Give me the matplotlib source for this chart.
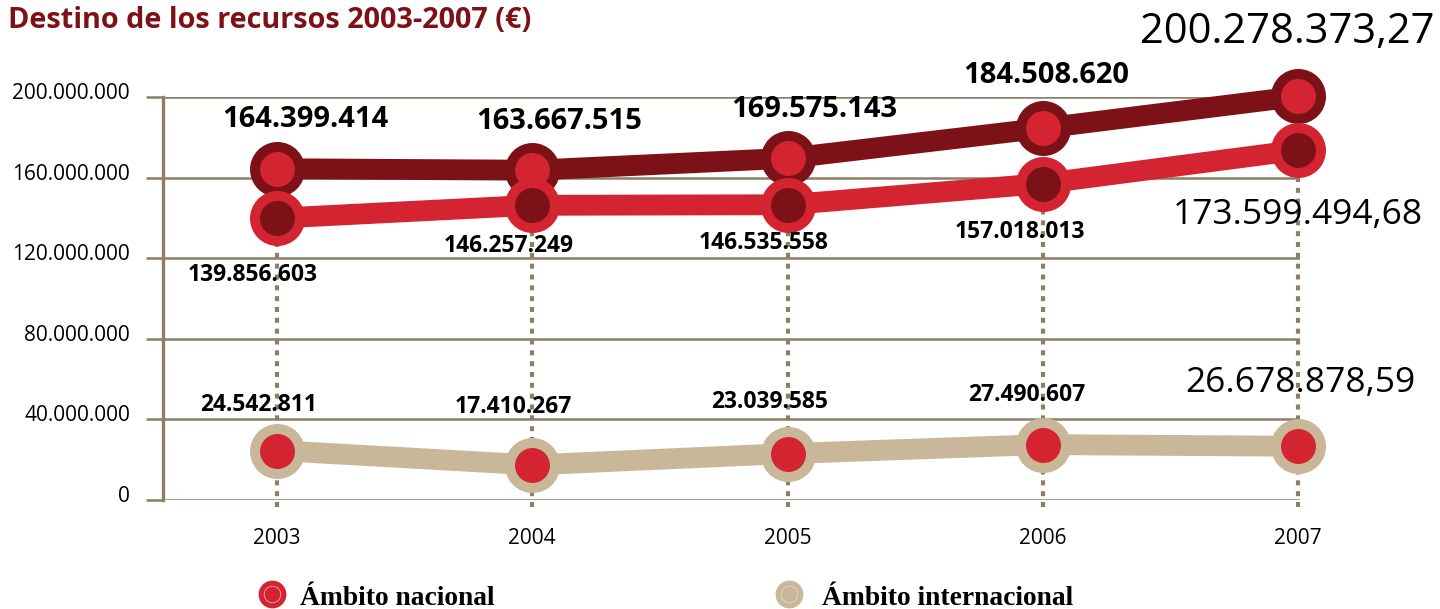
import matplotlib
matplotlib.use('Agg')
from matplotlib import pyplot as plt
from matplotlib.lines import Line2D
from matplotlib.transforms import ScaledTranslation

years = [2003, 2004, 2005, 2006, 2007]
total = [164399414, 163667515, 169575143, 184508620, 200278373.27]
nacional = [139856603, 146257249, 146535558, 157018013, 173599494.68]
internacional = [24542811, 17410267, 23039585, 27490607, 26678878.59]
y_ticks = [0, 40000000, 80000000, 120000000, 160000000, 200000000]
legend_labels = ['Ámbito nacional', 'Ámbito internacional']
title = 'Destino de los recursos 2003-2007 (€)'

DARK = '#7d1118'
RED = '#d42431'
TAN = '#c8b899'
GRID = '#8c7f66'
FONT = 'Open Sans'


def fmt(v):
  if v != int(v):
    s = f'{v:,.2f}'
  else:
    s = f'{int(v):,}'
  return s.replace(',', '#').replace('.', ',').replace('#', '.')


def px(v):
  # pixels -> points at 100 dpi
  return v * 0.72


def label_series(ax, values, offsets, small_size):
  for i, (x, v) in enumerate(zip(years, values)):
    dx, dy = offsets[i]
    last = i == len(values) - 1
    ax.annotate(fmt(v), (x, v), xytext=(px(dx), px(dy)),
                textcoords='offset points', ha='center', va='center',
                fontsize=small_size[1] if last else small_size[0],
                fontweight='normal' if last else 'bold',
                family=FONT, color='black', zorder=10,
                annotation_clip=False)


def main():
  fig = plt.figure(figsize=(14.4, 6.09), dpi=100)
  ax = fig.add_axes([163 / 1440, 1 - 500 / 609, (1300 - 163) / 1440, 403 / 609])
  ax.set_xlim(2003 - 114 / 255.25, 2007 + 2 / 255.25)
  ax.set_ylim(0, 200000000)

  for s in ['top', 'right', 'bottom']:
    ax.spines[s].set_visible(False)
  ax.spines['left'].set_color(GRID)
  ax.spines['left'].set_linewidth(2.4)

  ax.set_yticks(y_ticks)
  ax.set_yticklabels([fmt(v) for v in y_ticks], family=FONT, fontsize=15)
  ax.tick_params(axis='y', length=12.2, width=1.8, color=GRID, pad=11.5)
  for lab in ax.get_yticklabels():
    lab.set_transform(lab.get_transform()
                      + ScaledTranslation(0, 0.06, fig.dpi_scale_trans))
  ax.set_xticks(years)
  ax.set_xticklabels([str(y) for y in years], family=FONT, fontsize=15)
  ax.tick_params(axis='x', length=0, pad=20)
  ax.yaxis.grid(True, color=GRID, linewidth=1.8)
  ax.set_axisbelow(True)

  # dotted guides
  ax.vlines(years, -3500000, nacional, colors=GRID, linewidth=3.0,
            linestyles=(0, (1.2, 1.4)), zorder=1.5, clip_on=False)

  mk = dict(marker='o', markersize=32.4, markeredgewidth=7.2, linestyle='none',
            clip_on=False)
  ax.plot(years, internacional, color=TAN, linewidth=15,
          solid_capstyle='round', zorder=3, clip_on=False)
  ax.plot(years, internacional, markerfacecolor=RED, markeredgecolor=TAN,
          zorder=4, **mk)
  ax.plot(years, total, color=DARK, linewidth=15,
          solid_capstyle='round', zorder=3, clip_on=False)
  ax.plot(years, total, markerfacecolor=RED, markeredgecolor=DARK,
          zorder=4, **mk)
  ax.plot(years, nacional, color=RED, linewidth=15,
          solid_capstyle='round', zorder=5, clip_on=False)
  ax.plot(years, nacional, markerfacecolor=DARK, markeredgecolor=RED,
          zorder=6, **mk)

  label_series(ax, total,
               [(28, 49), (27, 49), (27, 49), (3, 53), (-11, 64)], (21, 30))
  label_series(ax, nacional,
               [(-24, -57), (-24, -41), (-24, -38), (-23, -48), (0, -65)],
               (16.5, 25.5))
  label_series(ax, internacional,
               [(-18, 46), (-19, 58), (-18, 52), (-16, 50), (2, 63)],
               (16.5, 25.5))

  fig.text(8 / 1440, 1 - 28 / 609, title, family=FONT, fontweight='bold',
           fontsize=20.8, color=DARK, ha='left', va='baseline')

  # legend
  for (cx, tx, col, lab) in [(272, 300, RED, legend_labels[0]),
                             (789, 822, TAN, legend_labels[1])]:
    fig.add_artist(Line2D([cx / 1440], [1 - 594 / 609], marker='o',
                          markersize=19, color=col, linestyle='none',
                          transform=fig.transFigure))
    fig.add_artist(Line2D([cx / 1440], [1 - 594 / 609], marker='o',
                          markersize=12, markerfacecolor='none',
                          markeredgecolor='#f0c8c8' if col == RED else '#e4dccb',
                          markeredgewidth=0.5, linestyle='none',
                          transform=fig.transFigure))
    fig.text(tx / 1440, 1 - 605 / 609, lab, family='Liberation Serif',
             fontweight='bold', fontsize=19.8, color='black', ha='left',
             va='baseline')

  fig.savefig('out.png', dpi=100)


if __name__ == '__main__':
  main()
